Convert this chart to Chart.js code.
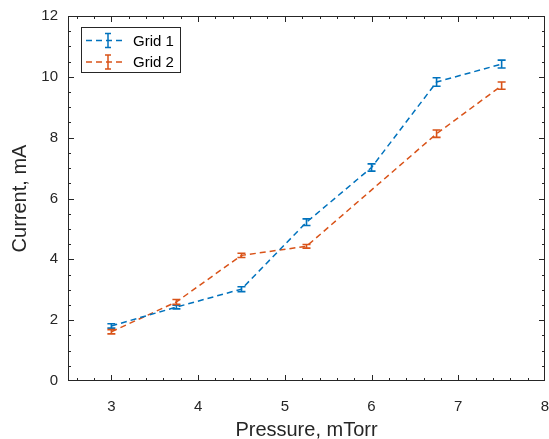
<!DOCTYPE html>
<html>
<head>
<meta charset="utf-8">
<script src="https://cdn.jsdelivr.net/npm/chart.js@4"></script>
<style>
  html, body { margin: 0; padding: 0; background: #fff; }
  #wrap { width: 549px; height: 439px; }
</style>
</head>
<body>
<div id="wrap"><canvas id="chart" width="549" height="439"></canvas></div>
<script>
// data
const pressure1 = [3, 3.75, 4.5, 5.25, 6, 6.75, 7.5];
const grid1 = [1.81, 2.43, 3.02, 5.22, 7.02, 9.83, 10.42];
const grid1Err = [0.07, 0.06, 0.08, 0.11, 0.12, 0.14, 0.13];
const pressure2 = [3, 3.75, 4.5, 5.25, 6.75, 7.5];
const grid2 = [1.62, 2.6, 4.13, 4.43, 8.13, 9.71];
const grid2Err = [0.07, 0.08, 0.07, 0.06, 0.12, 0.12];

const xTicks = [3, 4, 5, 6, 7, 8];
const yTicks = [0, 2, 4, 6, 8, 10, 12];
const seriesNames = ['Grid 1', 'Grid 2'];

const blue = '#0072BD';
const orange = '#D95319';
const axisColor = '#262626';
const font = '"Liberation Sans", Arial, sans-serif';

const toPoints = (xs, ys) => xs.map((x, i) => ({ x: x, y: ys[i] }));

// ticks pointing inwards on all four sides, plus the box
const boxTicks = {
    id: 'boxTicks',
    afterDraw(chart) {
        const { ctx, chartArea: a, scales: { x, y } } = chart;
        ctx.save();
        ctx.strokeStyle = axisColor;
        ctx.lineWidth = 1;
        ctx.strokeRect(a.left + 0.5, a.top + 0.5, a.right - a.left - 1, a.bottom - a.top - 1);
        const tick = (x1, y1, x2, y2) => {
            ctx.beginPath(); ctx.moveTo(x1, y1); ctx.lineTo(x2, y2); ctx.stroke();
        };
        for (let v = 2.6; v < 8; v += 0.2) {
            const px = Math.round(x.getPixelForValue(v)) + 0.5;
            const major = Math.abs(v - Math.round(v)) < 1e-6;
            const len = major ? 6 : 3;
            tick(px, a.bottom, px, a.bottom - len);
            tick(px, a.top, px, a.top + len);
        }
        for (let v = 0.5; v < 12; v += 0.5) {
            const py = Math.round(y.getPixelForValue(v)) + 0.5;
            const major = Math.abs(v / 2 - Math.round(v / 2)) < 1e-6;
            const len = major ? 6 : 3;
            tick(a.left, py, a.left + len, py);
            tick(a.right, py, a.right - len, py);
        }
        ctx.restore();
    }
};

function drawBar(ctx, px, top, bottom, half) {
    ctx.beginPath();
    ctx.moveTo(px, top); ctx.lineTo(px, bottom);
    ctx.moveTo(px - half, top); ctx.lineTo(px + half, top);
    ctx.moveTo(px - half, bottom); ctx.lineTo(px + half, bottom);
    ctx.stroke();
}

const errorBars = {
    id: 'errorBars',
    afterDatasetsDraw(chart) {
        const { ctx, scales: { x, y } } = chart;
        const sets = [[pressure1, grid1, grid1Err, blue], [pressure2, grid2, grid2Err, orange]];
        ctx.save();
        ctx.lineWidth = 1.6;
        sets.forEach(([xs, ys, es, col]) => {
            ctx.strokeStyle = col;
            xs.forEach((v, i) => {
                drawBar(ctx, x.getPixelForValue(v),
                    y.getPixelForValue(ys[i] + es[i]),
                    y.getPixelForValue(ys[i] - es[i]), 4);
            });
        });
        ctx.restore();
    }
};

const boxLegend = {
    id: 'boxLegend',
    afterDraw(chart) {
        const { ctx, chartArea: a } = chart;
        const left = a.left + 13, top = a.top + 11, w = 99, h = 45;
        ctx.save();
        ctx.fillStyle = '#fff';
        ctx.fillRect(left, top, w, h);
        ctx.strokeStyle = axisColor;
        ctx.lineWidth = 1;
        ctx.strokeRect(left + 0.5, top + 0.5, w, h);
        [blue, orange].forEach((col, i) => {
            const cy = top + 13.5 + i * 21.5;
            ctx.strokeStyle = col;
            ctx.lineWidth = 1.5;
            ctx.setLineDash([6, 4]);
            ctx.beginPath(); ctx.moveTo(left + 5, cy); ctx.lineTo(left + 43, cy); ctx.stroke();
            ctx.setLineDash([]);
            drawBar(ctx, left + 27, cy - 7, cy + 7, 3);
            ctx.fillStyle = '#000';
            ctx.font = '15px ' + font;
            ctx.textBaseline = 'middle';
            ctx.fillText(seriesNames[i], left + 52, cy + 1);
        });
        ctx.restore();
    }
};

const ctx = document.getElementById('chart').getContext('2d');
new Chart(ctx, {
    type: 'line',
    data: {
        datasets: [{
            label: seriesNames[0],
            data: toPoints(pressure1, grid1),
            borderColor: blue,
            borderWidth: 1.5,
            borderDash: [6, 4],
            pointRadius: 0,
            fill: false
        }, {
            label: seriesNames[1],
            data: toPoints(pressure2, grid2),
            borderColor: orange,
            borderWidth: 1.5,
            borderDash: [6, 4],
            pointRadius: 0,
            fill: false
        }]
    },
    options: {
        responsive: false,
        animation: false,
        layout: { padding: { top: 16, right: 4, left: 0, bottom: 0 } },
        plugins: {
            legend: { display: false },
            tooltip: { enabled: false }
        },
        scales: {
            x: {
                type: 'linear',
                min: 2.5,
                max: 8,
                afterBuildTicks: s => { s.ticks = xTicks.map(v => ({ value: v })); },
                afterFit: s => { s.height = 58; s.paddingLeft = 0; s.paddingRight = 0; },
                grid: { display: false, drawTicks: false },
                border: { display: false },
                ticks: { color: axisColor, font: { family: font, size: 15 }, padding: 17, maxRotation: 0 },
                title: { display: true, text: 'Pressure, mTorr', color: axisColor,
                         font: { family: font, size: 20 }, padding: { top: 4, bottom: -3 } }
            },
            y: {
                min: 0,
                max: 12,
                afterBuildTicks: s => { s.ticks = yTicks.map(v => ({ value: v })); },
                afterFit: s => { s.width = 68; s.paddingTop = 0; s.paddingBottom = 0; },
                grid: { display: false, drawTicks: false },
                border: { display: false },
                ticks: { color: axisColor, font: { family: font, size: 15 }, padding: 10 },
                title: { display: true, text: 'Current, mA', color: axisColor,
                         font: { family: font, size: 20 }, padding: { top: 8, bottom: 0 } }
            }
        }
    },
    plugins: [errorBars, boxTicks, boxLegend]
});
</script>
</body>
</html>
